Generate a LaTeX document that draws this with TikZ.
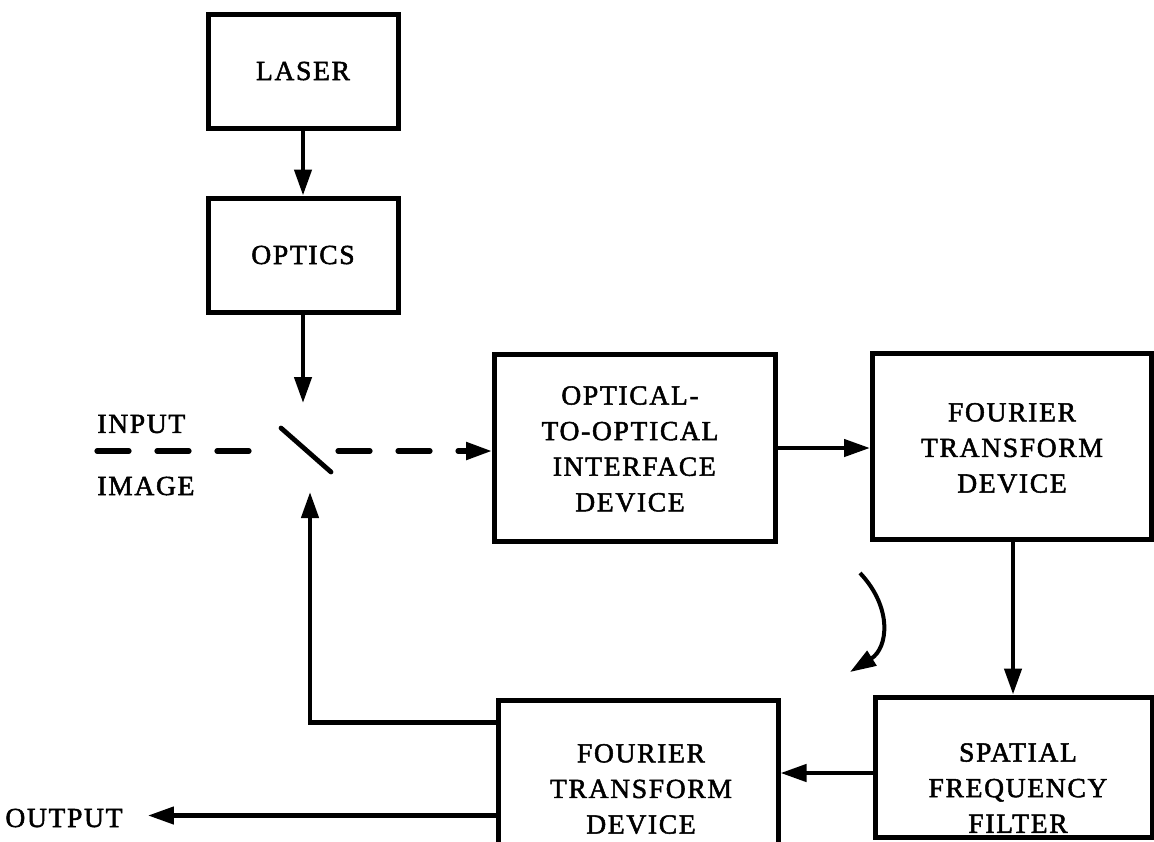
\documentclass[tikz,border=0pt]{standalone}
\usepackage{fontspec}
\usetikzlibrary{arrows.meta,calc}
\newfontfamily\lab[LetterSpace=6,FakeBold=1.8]{Liberation Serif}
\begin{document}
\begin{tikzpicture}[x=0.5pt,y=-0.5pt,
  box/.style={draw,line width=2.5pt,inner sep=0pt},
  lbl/.style={font=\lab\fontsize{13.8}{17.8}\selectfont,align=center,inner sep=0pt},
  arr/.style={line width=2.2pt,-{Triangle[length=13pt,width=8.5pt]}},
  dsh/.style={line width=2.6pt,line cap=round,dash pattern=on 16pt off 14pt}]
\useasboundingbox (0,0) rectangle (1154,841);
\clip (0,0) rectangle (1154,841);
% boxes
\node[box,minimum width=95pt,minimum height=57pt,lbl] (laser) at (303,71) {LASER};
\node[box,minimum width=95pt,minimum height=57pt,lbl] (optics) at (303,255) {OPTICS};
\node[box,minimum width=140.5pt,minimum height=93.5pt] (oo) at (635,448) {};
\node[lbl] (ootxt) at (630,449) {OPTICAL-\\TO-OPTICAL\\\ INTERFACE\\DEVICE};
\node[box,minimum width=139.5pt,minimum height=93pt] (ft1) at (1012,446) {};
\node[lbl] (ft1txt) at (1012,448) {FOURIER\\TRANSFORM\\DEVICE};
\node[box,minimum width=138.5pt,minimum height=70pt] (sff) at (1013.5,767) {};
\node[lbl] (sfftxt) at (1018,788) {SPATIAL\\FREQUENCY\\FILTER};
\node[box,minimum width=140pt,minimum height=82pt] (bft) at (638,782) {};
\node[lbl] (bfttxt) at (641,789) {FOURIER\\TRANSFORM\\DEVICE};
% labels
\node[lbl,anchor=west] (inp) at (97,424) {INPUT};
\node[lbl,anchor=west] (img) at (97,486) {IMAGE};
\node[lbl,anchor=west] (out) at (5,818) {OUTPUT};
% mirror
\coordinate (mirA) at (281,428);
\coordinate (mirB) at (331,472);
\draw[line width=2.4pt,line cap=round] (mirA) -- (mirB);
\coordinate (mirtop) at (303,403);
\coordinate (mirbot) at (310,492);
\coordinate (inL) at (97,451);
\coordinate (inR) at (250,451);
\coordinate (reflL) at (338,451);
\coordinate (ftx) at (1013,0);
% connectors
\draw[arr] (laser) -- (optics);
\draw[arr] (optics.south) -- (mirtop);
\draw[dsh] (inL) -- (inR);
\draw[dsh,-{Triangle[length=13pt,width=8.5pt]}] (reflL) -- (reflL -| oo.west);
\draw[arr] (oo.east) -- (oo.east -| ft1.west);
\draw[arr] (ft1.south -| ftx) -- (ftx |- sff.north);
\coordinate (sfa) at ($(sff.west)+(0,6)$);
\draw[arr] (sfa) -- (sfa -| bft.east);
\coordinate (fbk) at ($(bft.north west)+(0,25)$);
\draw[arr] (fbk) -| (mirbot);
\coordinate (outs) at ($(bft.north west)+(0,118)$);
\coordinate (outtip) at ($(out.east)+(25,0)$);
\draw[arr] (outs) -- (outs -| outtip);
% rotation arrow
\coordinate (rotA) at (860,573);
\coordinate (rotB) at (850,672);
\draw[arr,line width=2pt] (rotA) .. controls (893,608) and (888,648) .. (rotB);
\end{tikzpicture}
\end{document}
